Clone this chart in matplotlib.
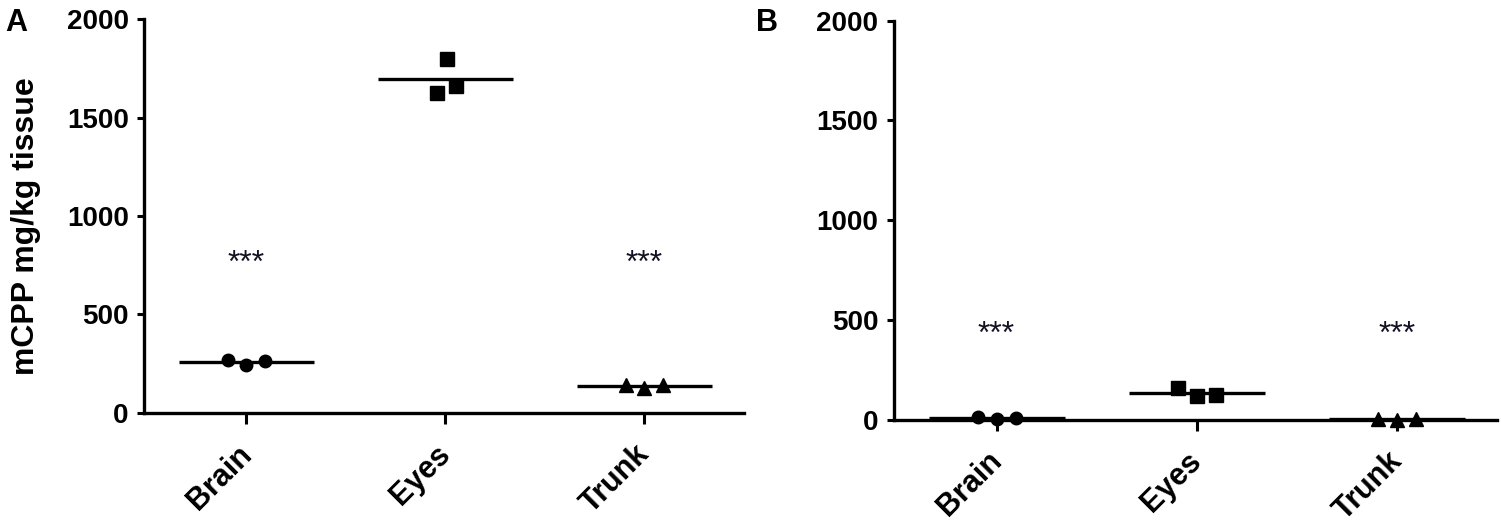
import numpy as np
import matplotlib
matplotlib.use('Agg')
import matplotlib.pyplot as plt
import matplotlib.transforms as mtransforms

# ---- data (mCPP, mg/kg tissue) ----------------------------------------------
tissues = ['Brain', 'Eyes', 'Trunk']
markers = ['o', 's', '^']

a_brain = [268, 243, 264]
a_eyes = [1624, 1797, 1661]
a_trunk = [140, 128, 140]

b_brain = [14, 5, 10]
b_eyes = [160, 120, 123]
b_trunk = [5, 0, 5]

sig_labels = ['***', '', '***']
a_sig_y = [800, None, 800]
b_sig_y = [470, None, 470]

yticks = [0, 500, 1000, 1500, 2000]

# horizontal spread of the dots (GraphPad-style), per group
a_spread = [[-0.095, 0, 0.095], [-0.045, 0.01, 0.055], [-0.095, 0, 0.095]]
b_spread = [[-0.095, 0, 0.095], [-0.095, 0, 0.095], [-0.095, 0, 0.095]]

plt.rcParams['font.family'] = ['Liberation Sans', 'DejaVu Sans']

W, H = 1501, 525
fig = plt.figure(figsize=(W / 100, H / 100), dpi=100)


def px_axes(left, right, top, bottom):
    return fig.add_axes([left / W, 1 - bottom / H, (right - left) / W, (bottom - top) / H])


def panel(ax, groups, spread, sig_y):
    for i, vals in enumerate(groups):
        xs = [i + d for d in spread[i]]
        ax.plot(xs, vals, ls='none', marker=markers[i], color='black',
                ms=9.5 if markers[i] != 'o' else 9, zorder=3, clip_on=False)
        m = np.mean(vals)
        ax.plot([i - 0.34, i + 0.34], [m, m], color='black', lw=2.4,
                solid_capstyle='butt', zorder=2, clip_on=False)
        if sig_y[i] is not None:
            ax.annotate(sig_labels[i], (i, sig_y[i]), xytext=(0, -12),
                        textcoords='offset points', ha='center', va='baseline',
                        fontsize=23, color='#111122')
    ax.set_xlim(-0.515, 2.5)
    ax.set_ylim(0, 2000)
    ax.set_xticks(range(len(tissues)))
    ax.set_xticklabels(tissues, rotation=45, ha='right', rotation_mode='anchor',
                       fontsize=22, fontweight='bold')
    ax.set_yticks(yticks)
    ax.set_yticklabels([str(t) for t in yticks], fontsize=20, fontweight='bold')
    for s in ['top', 'right']:
        ax.spines[s].set_visible(False)
    for s in ['left', 'bottom']:
        ax.spines[s].set_linewidth(2.4)
    ax.tick_params(axis='y', length=5, width=2.2, pad=6)
    ax.tick_params(axis='x', length=8, width=2.2, pad=4)
    # nudge the slanted labels left/down like the original
    shift = mtransforms.ScaledTranslation(-10 / 100, -10 / 100, fig.dpi_scale_trans)
    for tick in ax.xaxis.get_major_ticks():
        tick.label1.set_transform(tick.label1.get_transform() + shift)


axA = px_axes(144, 744, 19.3, 412.7)
panel(axA, [a_brain, a_eyes, a_trunk], a_spread, a_sig_y)
axA.set_ylabel('mCPP mg/kg tissue', fontsize=23, fontweight='bold')
axA.yaxis.set_label_coords(-0.172, 0.475)

axB = px_axes(893.5, 1497, 20.8, 419.5)
panel(axB, [b_brain, b_eyes, b_trunk], b_spread, b_sig_y)

fig.text(5 / W, 1 - 8 / H, 'A', fontsize=22, fontweight='bold', ha='left', va='top')
fig.text(756 / W, 1 - 8 / H, 'B', fontsize=22, fontweight='bold', ha='left', va='top')

fig.savefig('out.png', dpi=100)
